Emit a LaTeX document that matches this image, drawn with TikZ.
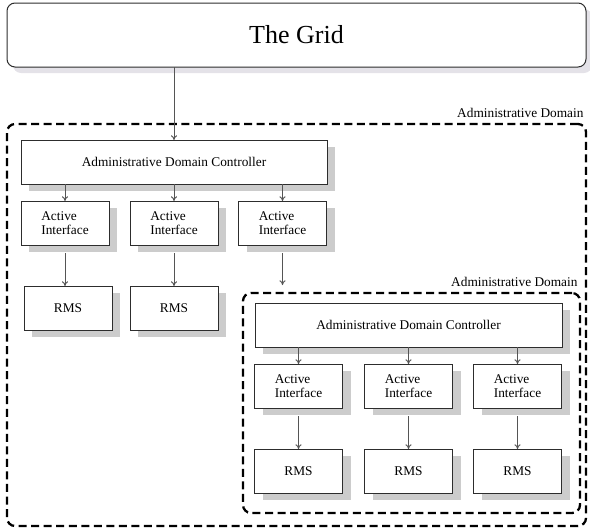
\documentclass[tikz,border=0pt]{standalone}
\usepackage{fontspec}
\setmainfont{Liberation Serif}
\usetikzlibrary{arrows.meta,shadows}

\definecolor{boxline}{RGB}{45,45,45}
\definecolor{arrowline}{RGB}{85,85,85}
\definecolor{gridshade}{RGB}{228,226,232}
\definecolor{boxshade}{RGB}{204,204,204}

\tikzset{every picture/.style={line width=0.75pt}}

\begin{document}
\begin{tikzpicture}[x=0.75pt,y=0.75pt,yscale=-1,xscale=1,
  gridbox/.style={draw=boxline,fill=white,rounded corners=6pt,inner sep=0pt,outer sep=0pt,
    minimum width=434.25pt,minimum height=48pt,font=\fontsize{19.5}{22}\selectfont,
    drop shadow={shadow xshift=4.5pt,shadow yshift=-4.5pt,fill=gridshade,opacity=1}},
  domainbox/.style={draw=black,line width=1.7pt,dash pattern=on 6pt off 3.4pt,rounded corners=6pt,
    inner sep=0pt,outer sep=0pt},
  ctrlbox/.style={draw=boxline,fill=white,inner sep=0pt,outer sep=0pt,
    minimum width=229.5pt,minimum height=33pt,font=\fontsize{10}{10.5}\selectfont,
    drop shadow={shadow xshift=6pt,shadow yshift=-5.25pt,fill=boxshade,opacity=1}},
  unitbox/.style={ctrlbox,minimum width=66pt,align=left},
  domlabel/.style={anchor=base east,inner sep=0pt,font=\fontsize{10}{10.5}\selectfont},
  link/.style={draw=arrowline,-{To[length=3.5pt,width=4.5pt]}},
]
\useasboundingbox (0,0) rectangle (590,529);

%The Grid
\node [gridbox] (grid) at (296.5,35) {The Grid};

%Outer administrative domain
\node [domainbox,minimum width=434.25pt,minimum height=301.5pt] (dom1) at (296.5,325) {};
\node [domlabel] (dom1lbl) at (584,117) {Administrative Domain};

\node [ctrlbox] (adc1) at (174,162) {Administrative Domain Controller};
\node [unitbox] (ai1) at (65,223) {Active\\Interface};
\node [unitbox] (ai2) at (174,223) {Active\\Interface};
\node [unitbox] (ai3) at (282.5,223) {Active\\Interface};
\node [unitbox,align=center] (rms1) at (68,308) {RMS};
\node [unitbox,align=center] (rms2) at (174,308) {RMS};

%Inner administrative domain
\node [domainbox,minimum width=252.75pt,minimum height=165pt] (dom2) at (411.5,403) {};
\node [domlabel] (dom2lbl) at (578,286) {Administrative Domain};

\node [ctrlbox,minimum width=230.25pt] (adc2) at (408.5,325) {Administrative Domain Controller};
\node [unitbox] (ai4) at (298.5,386) {Active\\Interface};
\node [unitbox] (ai5) at (408.5,386) {Active\\Interface};
\node [unitbox] (ai6) at (517.5,386) {Active\\Interface};
\node [unitbox,align=center] (rms4) at (298.5,471) {RMS};
\node [unitbox,align=center] (rms5) at (408.5,471) {RMS};
\node [unitbox,align=center] (rms6) at (517.5,471) {RMS};

%Connectors
\draw [link] (adc1.north |- grid.south) -- (adc1.north);
\draw [link] (ai1.north |- adc1.south) -- (ai1.north);
\draw [link] (ai2.north |- adc1.south) -- (ai2.north);
\draw [link] (ai3.north |- adc1.south) -- (ai3.north);
\draw [link,shorten <=6pt] (ai1.south) -- (ai1.south |- rms1.north);
\draw [link,shorten <=6pt] (ai2.south) -- (ai2.south |- rms2.north);
\draw [link,shorten <=6pt,shorten >=6pt] (ai3.south) -- (ai3.south |- dom2.north);

\draw [link] (ai4.north |- adc2.south) -- (ai4.north);
\draw [link] (ai5.north |- adc2.south) -- (ai5.north);
\draw [link] (ai6.north |- adc2.south) -- (ai6.north);
\draw [link,shorten <=6pt] (ai4.south) -- (ai4.south |- rms4.north);
\draw [link,shorten <=6pt] (ai5.south) -- (ai5.south |- rms5.north);
\draw [link,shorten <=6pt] (ai6.south) -- (ai6.south |- rms6.north);

\end{tikzpicture}
\end{document}
